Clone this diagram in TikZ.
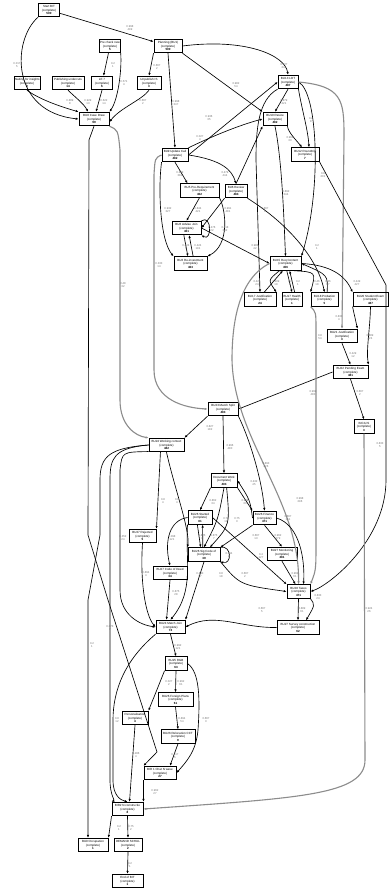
\documentclass[tikz,border=0pt]{standalone}
\usepackage{fontspec}
\setmainfont{Liberation Sans}
\usetikzlibrary{arrows.meta}
\begin{document}
\begin{tikzpicture}[x=1pt,y=-1pt,
  box/.style={draw=black, line width=0.95pt, fill=white, align=center, inner sep=0.4pt, font=\fontsize{3.0}{3.5}\selectfont, minimum height=13.5},
  lbl/.style={font=\fontsize{2.8}{3.2}\selectfont, text=black!55, align=center, inner sep=0},
  e/.style={-{Latex[length=2.8pt,width=2.4pt]}, line width=0.65pt, draw=black},
  g/.style={e, draw=black!45, line width=1.1pt},
]
\useasboundingbox (0,0) rectangle (389,893);
\fill[white] (0,0) rectangle (389,893);
% nodes
\node[box, minimum width=21] (start) at (49,10) {Start BIT\\(complete)\\\textbf{500}};
\node[box, minimum width=18] (precheck) at (110,46) {Pre check new\\(complete)\\\textbf{5}};
\node[box, minimum width=28] (planning) at (168,46) {Planning (BU1)\\(complete)\\\textbf{500}};
\node[box, minimum width=24] (waiting) at (27,83) {Waiting for insights\\(complete)\\\textbf{9}};
\node[box, minimum width=32] (publishing) at (68,83) {Publishing undercuts\\(complete)\\\textbf{14}};
\node[box, minimum width=21] (le7) at (102,83) {LE 7\\(complete)\\\textbf{6}};
\node[box, minimum width=24] (unpub) at (149,83) {Unpublish IS\\(complete)\\\textbf{3}};
\node[box, minimum width=30] (bu8) at (94,119) {BU8 Case Draw\\(complete)\\\textbf{99}};
\node[box, minimum width=20] (bu13) at (288,82) {BU13 LOT\\(complete)\\\textbf{487}};
\node[box, minimum width=24] (bu10) at (275,119) {BU10 Resize\\(complete)\\\textbf{482}};
\node[box, minimum width=28] (bu12) at (305,154.5) {BU12 Roundtrip\\(complete)\\\textbf{7}};
\node[box, minimum width=26] (bu9) at (175,155) {BU9 Update Call\\(complete)\\\textbf{482}};
\node[box, minimum width=39] (bu5pre) at (199.5,190.5) {BU5 Pre-Requirement\\(complete)\\\textbf{462}};
\node[box, minimum width=22] (bu6rev) at (236,191) {BU6 Review\\(complete)\\\textbf{484}};
\node[box, minimum width=29] (bu6adv) at (186.5,228) {BU6 Advise Join\\(complete)\\\textbf{461}};
\node[box, minimum width=33] (bu6re) at (190.5,263.5) {BU6 Re-investment\\(complete)\\\textbf{463}};
\node[box, minimum width=31] (bu15) at (285.5,263.5) {BU15 Req Content\\(complete)\\\textbf{456}};
\node[box, minimum width=32] (bu17j) at (260,299.5) {BU17 Justification\\(complete)\\\textbf{24}};
\node[box, minimum width=20] (bu17h) at (292,299.5) {BU17 Health\\(complete)\\\textbf{1}};
\node[box, minimum width=27] (bu18) at (324.5,299.5) {BU18 Probation\\(complete)\\\textbf{5}};
\node[box, minimum width=35] (bu20) at (370.5,299.5) {BU20 Student Exam\\(complete)\\\textbf{487}};
\node[box, minimum width=30] (bu21) at (342,336) {BU21 Justification\\(complete)\\\textbf{3}};
\node[box, minimum width=35] (bu22) at (350.5,372) {BU22 Pending Exam\\(complete)\\\textbf{481}};
\node[box, minimum width=30] (bu23) at (223,409) {BU23 Match Split\\(complete)\\\textbf{483}};
\node[box, minimum width=20] (inca) at (364,426.5) {INCA IS\\(complete)\\\textbf{3}};
\node[box, minimum width=35] (bu24wc) at (166.5,445) {BU24 Working context\\(complete)\\\textbf{482}};
\node[box, minimum width=26] (docwork) at (224,480.5) {Document Work\\(complete)\\\textbf{404}};
\node[box, minimum width=24] (bu26st) at (200,517.5) {BU26 Started\\(complete)\\\textbf{81}};
\node[box, minimum width=23] (bu26fin) at (264.5,518) {BU26 Finance\\(complete)\\\textbf{471}};
\node[box, minimum width=27] (bu27rej) at (142.5,536) {BU27 Rejected\\(complete)\\\textbf{5}};
\node[box, minimum width=32] (bu26sig) at (204,554.5) {BU26 Sig Code of\\(complete)\\\textbf{39}};
\node[box, minimum width=30] (bu27mon) at (282,554) {BU27 Monitoring\\(complete)\\\textbf{281}};
\node[box, minimum width=34] (bu27code) at (170,573) {BU27 Code of Deed\\(complete)\\\textbf{34}};
\node[box, minimum width=23] (bu28tax) at (298.5,591.5) {BU28 Taxes\\(complete)\\\textbf{471}};
\node[box, minimum width=42] (survey) at (298,627.5) {BU27 Survey construction\\(complete)\\\textbf{62}};
\node[box, minimum width=29] (bu24mj) at (170.5,627) {BU24 Match Join\\(complete)\\\textbf{72}};
\node[box, minimum width=22] (rgb) at (176,663.5) {BU25 RGB\\(complete)\\\textbf{63}};
\node[box, minimum width=35] (fp) at (175.5,699.5) {BU26 Foreign Plans\\(complete)\\\textbf{61}};
\node[box, minimum width=26] (person) at (135,718) {Personalisation\\(complete)\\\textbf{4}};
\node[box, minimum width=34] (reloc) at (178,736.5) {BU26 Relocation CCT\\(complete)\\\textbf{9}};
\node[box, minimum width=32] (bir1) at (160,773) {BIR 1 Chat N wave\\(complete)\\\textbf{27}};
\node[box, minimum width=31] (bir2) at (127.5,809) {BIR2 N.constructie\\(complete)\\\textbf{8}};
\node[box, minimum width=30] (occ) at (93,845) {BU9 Occupation\\(complete)\\\textbf{1}};
\node[box, minimum width=28] (demand) at (128,845) {DEMAND SCHUL\\(complete)\\\textbf{2}};
\node[box, minimum width=31] (endn) at (127.5,881) {End of BIT\\(complete)\\\textbf{1}};
% edges top
\draw[e] (start) -- (planning);
\draw[e] (start.south west) .. controls (12,40) and (10,112) .. (bu8.west);
\draw[e] (precheck) -- (le7);
\draw[e] (precheck.south east) .. controls (122,70) and (118,100) .. (bu8.north east);
\draw[e] (waiting.south) .. controls (40,100) and (65,108) .. (bu8.north west);
\draw[e] (publishing.south) .. controls (75,97) and (84,104) .. ([xshift=-6pt]bu8.north);
\draw[e] (le7.south) -- ([xshift=2pt]bu8.north);
\draw[e] (unpub.south) .. controls (142,100) and (120,108) .. ([yshift=-3pt]bu8.east);
\draw[e] (planning.south west) -- (unpub.north);
\draw[e] (planning.south) -- (bu9.north);
\draw[e] (planning.east) .. controls (245,38) and (285,55) .. (bu13.north);
\draw[e] (planning.south east) -- (bu10.north west);
\draw[e] (bu13.south) -- (bu10.north);
\draw[e] (bu13.south east) .. controls (302,110) and (308,130) .. ([xshift=4pt]bu12.north);
\draw[e] (bu10.south east) .. controls (288,132) and (296,140) .. ([xshift=-3pt]bu12.north);
\draw[e] (bu13.east) .. controls (318,92) and (322,190) .. (bu15.north east);
\draw[g] (bu13.east) .. controls (342,86) and (344,100) .. (344,135) -- (bu21.north);
\draw[e] (bu9.north east) .. controls (215,135) and (240,125) .. (bu10.west);
\draw[e] (bu9.east) -- (bu13.west);
\draw[e] (bu6rev.north) -- (bu10.south west);
\draw[e] (bu10.south) .. controls (282,160) and (284,220) .. (bu15.north);
\draw[e] (bu13.south west) .. controls (258,100) and (256,130) .. (256,160) -- (bu17j.north);
\draw[e] (bu9.south) -- ([xshift=-12pt]bu5pre.north);
\draw[e] (bu9.south west) .. controls (158,190) and (160,240) .. (bu6re.north west);
\draw[e] (bu9.east) .. controls (222,160) and (232,170) .. (bu6rev.north);
\draw[e] (bu5pre.south) -- (bu6adv.north);
\draw[e] (bu6rev.south west) -- (bu6adv.east);
\draw[e] (bu6adv.north east) .. controls (212,214) and (212,242) .. (bu6adv.south east);
\draw[e] (bu6adv.250) -- (bu6re.110);
\draw[e] (bu6re.70) -- (bu6adv.290);
\draw[e] (bu5pre.south east) .. controls (226,210) and (230,245) .. (bu6re.north east);
\draw[e] (bu6adv.east) -- (bu15.west);
\draw[e] (bu6rev.south east) .. controls (290,225) and (318,260) .. (bu18.north);
\draw[e] (bu15.230) .. controls (268,280) .. (bu17j.north east);
\draw[e] (bu17j.60) .. controls (272,282) .. (bu15.250);
\draw[e] (bu15.280) -- (bu17h.north);
\draw[e] (bu17h.70) -- (bu15.300);
\draw[e] (bu15.320) .. controls (316,272) .. (bu18.north west);
\draw[e] (bu18.70) .. controls (328,275) .. (bu15.east);
\draw[e] (bu15.east) .. controls (330,265) and (345,275) .. (bu20.north west);
\draw[e] (bu12.south east) -- (386,285) -- (386,480) .. controls (386,540) and (330,585) .. (bu28tax.east);
% middle
\draw[e] (bu20.south west) -- (bu21.north east);
\draw[e] (bu20.south) .. controls (370,330) and (366,350) .. (bu22.north east);
\draw[e] (bu21.south) -- (bu22.north);
\draw[e] (bu22.west) -- (bu23.east);
\draw[e] (bu22.south) -- (inca.north);
\draw[g] (bu9.west) .. controls (155,158) .. (154,175) -- (154,370) .. controls (154,400) and (185,408) .. (bu23.west);
\draw[g] (bu8.south east) .. controls (118,130) .. (120,150) -- (120,400) .. controls (120,425) and (135,436) .. (bu24wc.north west);
\draw[e] (bu23.south west) -- (bu24wc.north east);
\draw[e] (bu23.south) -- (docwork.north);
\draw[e] (bu23.south east) .. controls (250,440) and (262,480) .. (bu26fin.north);
\draw[g] (bu15.west) .. controls (236,280) and (232,330) .. (232,360) .. controls (234,440) and (300,500) .. (bu28tax.north);
\draw[g] (bu18.south west) .. controls (316,312) .. (316,330) -- (316,540) .. controls (316,570) .. (bu28tax.north east);
\draw[g] (inca.south) -- (365,760) .. controls (365,795) and (300,798) .. (bir2.east);
% lower
\draw[e] (bu24wc.230) -- (bu27rej.north east);
\draw[e] (bu24wc.south) .. controls (175,490) and (190,530) .. (bu26sig.north west);
\draw[e] (bu26st.west) .. controls (170,520) and (164,540) .. (bu27code.north);
\draw[e] (docwork.south west) -- (bu26st.north);
\draw[e] (docwork.south east) -- (bu26fin.north west);
\draw[e] (bu26fin.west) .. controls (250,500) .. (docwork.east);
\draw[e] (docwork.south) .. controls (218,520) .. (bu26sig.north);
\draw[e] (docwork.290) .. controls (230,525) .. ([xshift=6pt]bu26sig.north);
\draw[e] (bu26st.250) -- (bu26sig.115);
\draw[e] (bu26sig.100) -- (bu26st.290);
\draw[e] (bu26fin.south west) -- (bu26sig.north east);
\draw[e] (bu26fin.south) -- (bu27mon.north);
\draw[e] (bu26fin.east) .. controls (300,525) and (305,560) .. ([xshift=5pt]bu28tax.north);
\draw[e] (bu26sig.north east) .. controls (232,545) and (232,565) .. (bu26sig.south east);
\draw[e] (bu26sig.south east) .. controls (240,585) .. (bu28tax.west);
\draw[e] (bu26st.east) -- (bu28tax.north west);
\draw[e] (bu27mon.south) -- ([xshift=-3pt]bu28tax.north);
\draw[e] (bu26sig.south) -- (bu24mj.north east);
\draw[e] (bu26st.south west) .. controls (185,560) and (195,590) .. (bu24mj.north);
\draw[e] (bu27rej.south) .. controls (140,580) and (145,615) .. (bu24mj.west);
\draw[e] (bu27code.south) -- ([xshift=-4pt]bu24mj.north);
\draw[e] (bu28tax.south) -- (survey.north);
\draw[e] (bu28tax.south east) .. controls (315,605) .. ([xshift=8pt]survey.north);
\draw[e] (survey.west) .. controls (240,628) and (215,612) .. (bu24mj.east);
\draw[e] (bu24mj.south) -- (rgb.north);
\draw[e] (rgb.south west) -- (person.north east);
\draw[e] (rgb.south) -- (fp.north);
\draw[e] (fp.south) -- (reloc.north);
\draw[e] (rgb.east) .. controls (200,672) and (200,700) .. (198,730) .. controls (196,752) and (186,762) .. (bir1.east);
\draw[e] (reloc.south) -- ([xshift=10pt]bir1.north);
\draw[e] (person.south) -- ([xshift=2pt]bir2.north);
\draw[e] (bir1.south west) -- (bir2.north east);
\draw[e] (bir2.south west) -- (occ.north east);
\draw[e] (bir2.south) -- (demand.north);
\draw[e] (demand.south) -- (endn.north);
\draw[e] (bu24wc.west) .. controls (110,448) and (100,456) .. (100,480) -- (100,535) -- (88,600) -- (88,825) -- ([xshift=-5pt]occ.north);
\draw[e] (bu8.south) -- (89,140) -- (88,535) -- (108,600) -- (157,752) -- (bir1.north west);
\draw[e] (bu24wc.west) .. controls (114,448) and (110,458) .. (110,480) -- (110,780) .. controls (110,795) and (115,800) .. (bir2.north west);
\draw[e] (bu24wc.200) .. controls (122,452) .. (120,470) -- (120,590) .. controls (120,615) and (140,625) .. (bu24mj.west);
\draw[e] (bu24mj.south west) .. controls (125,660) and (113,690) .. (113,720) -- (113,780) .. controls (113,795) and (120,800) .. (bir2.north);
% labels
\node[lbl] (l1) at (130,28) {0.998\\499};
\node[lbl] (l2) at (17,65) {0.017\\5};
\node[lbl] (l3) at (113,65) {0.2\\1};
\node[lbl] (l4) at (124,83) {0.571\\4};
\node[lbl] (l5) at (70,102) {0.889\\8};
\node[lbl] (l6) at (88,102) {0.929\\13};
\node[lbl] (l7) at (104,102) {0.622\\14};
\node[lbl] (l8) at (143,102) {0.667\\2};
\node[lbl] (l9) at (157,67) {0.667\\2};
\node[lbl] (l10) at (176,103) {0.998\\347};
\node[lbl] (l11) at (284,66) {0.927\\244};
\node[lbl] (l12) at (236,85) {0.982\\54};
\node[lbl] (l13) at (284,102) {0.879\\421};
\node[lbl] (l14) at (311,120) {0.2\\8};
\node[lbl] (l15) at (290,139) {0.962\\33};
\node[lbl] (l16) at (209,118) {0.936\\35};
\node[lbl] (l17) at (200,138) {0.027\\4};
\node[lbl] (l18) at (180,174) {0.869\\382};
\node[lbl] (l19) at (168,210) {0.932\\327};
\node[lbl] (l20) at (225,174) {0.479\\444};
\node[lbl] (l21) at (198,210) {0.844\\421};
\node[lbl] (l22) at (228,210) {0.991\\481};
\node[lbl] (l23) at (212,229) {0.476\\22};
\node[lbl] (l24) at (225,229) {0.818\\342};
\node[lbl] (l25) at (186,247) {0.424\\5};
\node[lbl] (l26) at (198,247) {0.424\\191};
\node[lbl] (l27) at (255,247) {0.983\\42};
\node[lbl] (l28) at (286,193) {0.892\\344};
\node[lbl] (l29) at (265,210) {0.667\\4};
\node[lbl] (l30) at (323,175) {0.8\\201};
\node[lbl] (l31) at (317,247) {0.2\\1};
\node[lbl] (l32) at (257,283) {0.429\\24};
\node[lbl] (l33) at (276,283) {0.409\\19};
\node[lbl] (l34) at (290,283) {0.2\\1};
\node[lbl] (l35) at (298,283) {0.2\\1};
\node[lbl] (l36) at (317,283) {0.46\\18};
\node[lbl] (l37) at (328,283) {0.46\\17};
\node[lbl] (l38) at (357,283) {0.449\\427};
\node[lbl] (l39) at (339,318) {0.833\\4};
\node[lbl] (l40) at (370,337) {0.889\\424};
\node[lbl] (l41) at (353,355) {0.429\\12};
\node[lbl] (l42) at (313,393) {0.999\\480};
\node[lbl] (l43) at (360,393) {0.667\\2};
\node[lbl] (l44) at (159,265) {0.333\\14};
\node[lbl] (l45) at (123,285) {0.48\\32};
\node[lbl] (l46) at (210,428) {0.827\\182};
\node[lbl] (l47) at (230,447) {0.996\\480};
\node[lbl] (l48) at (266,465) {0.893\\426};
\node[lbl] (l49) at (300,500) {0.998\\296};
\node[lbl] (l50) at (320,337) {0.8\\54};
\node[lbl] (l51) at (369,610) {0.924\\26};
\node[lbl] (l52) at (380,445) {0.833\\5};
\node[lbl] (l53) at (163,501) {0.8\\4};
\node[lbl] (l54) at (177,501) {0.8\\4};
\node[lbl] (l55) at (172,538) {0.098\\121};
\node[lbl] (l56) at (213,502) {0.862\\34};
\node[lbl] (l57) at (245,502) {0.969\\33};
\node[lbl] (l58) at (254,483) {0.432\\45};
\node[lbl] (l59) at (226,520) {0.75\\18};
\node[lbl] (l60) at (237,520) {0.75\\3};
\node[lbl] (l61) at (202,537) {0.875\\7};
\node[lbl] (l62) at (214,537) {0.875\\7};
\node[lbl] (l63) at (256,537) {0.667\\13};
\node[lbl] (l64) at (278,537) {0.962\\279};
\node[lbl] (l65) at (288,518) {0.667\\161};
\node[lbl] (l66) at (229,555) {0.694\\1};
\node[lbl] (l67) at (245,575) {0.667\\2};
\node[lbl] (l68) at (261,556) {0.4\\127};
\node[lbl] (l69) at (295,575) {0.962\\61};
\node[lbl] (l70) at (318,597) {0.833\\24};
\node[lbl] (l71) at (221,575) {0.8\\18};
\node[lbl] (l72) at (200,575) {0.833\\17};
\node[lbl] (l73) at (146,574) {0.894\\4};
\node[lbl] (l74) at (176,593) {0.875\\28};
\node[lbl] (l75) at (302,610) {0.889\\61};
\node[lbl] (l76) at (262,610) {0.667\\5};
\node[lbl] (l77) at (178,647) {0.992\\121};
\node[lbl] (l78) at (169,683) {0.027\\2};
\node[lbl] (l79) at (181,683) {0.992\\61};
\node[lbl] (l80) at (182,720) {0.894\\54};
\node[lbl] (l81) at (206,720) {0.667\\3};
\node[lbl] (l82) at (175,756) {0.417\\5};
\node[lbl] (l83) at (136,755) {0.286\\4};
\node[lbl] (l84) at (155,792) {0.962\\27};
\node[lbl] (l85) at (119,828) {0.2\\1};
\node[lbl] (l86) at (131,828) {0.75\\2};
\node[lbl] (l87) at (130,865) {0.2\\1};
\node[lbl] (l88) at (92,645) {0.2\\1};
\node[lbl] (l89) at (110,628) {0.073\\7};
\node[lbl] (l90) at (117,720) {0.8\\12};
\node[lbl] (l91) at (123,538) {0.352\\24};
\end{tikzpicture}
\end{document}
